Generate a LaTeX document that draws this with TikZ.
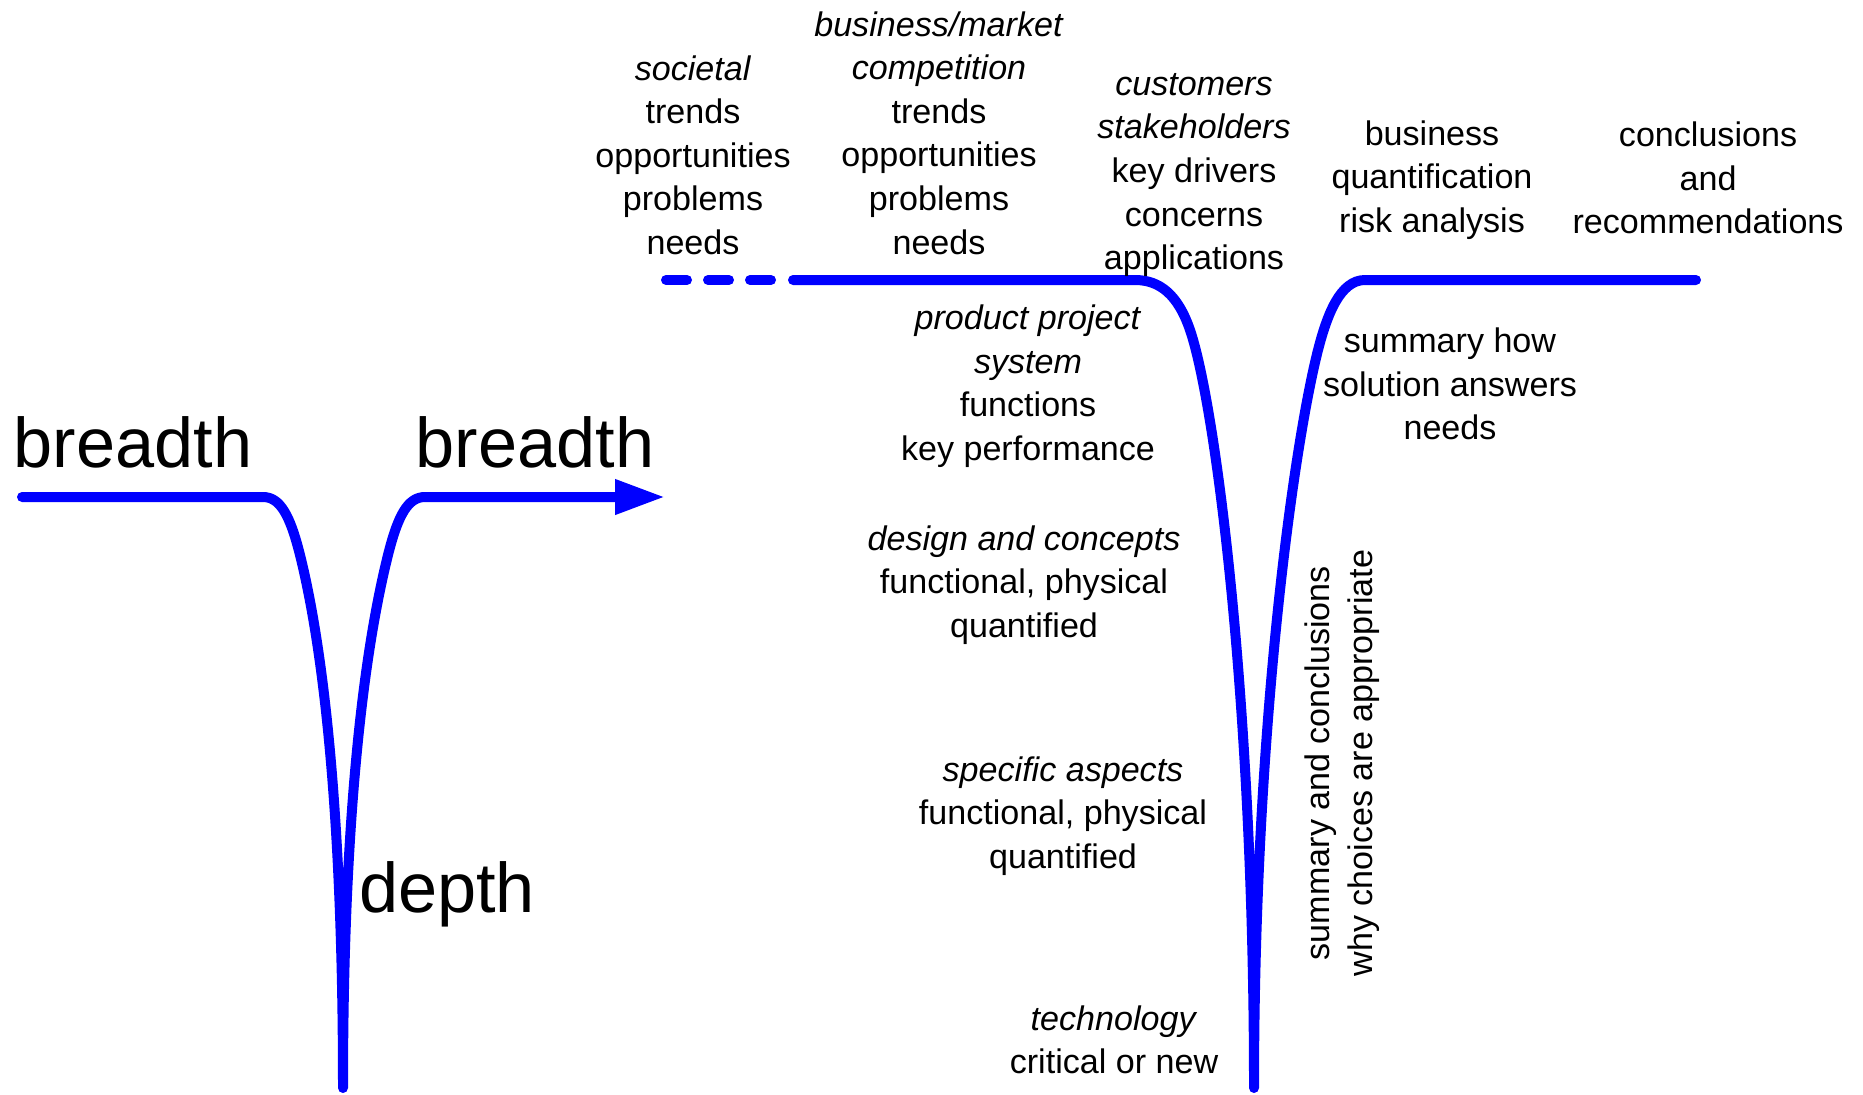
\documentclass[tikz,border=0pt]{standalone}
\usepackage{fontspec}
\setmainfont{Liberation Sans}
\usetikzlibrary{arrows.meta}

\begin{document}
\begin{tikzpicture}[>={Triangle[length=5mm,width=3.3mm]},
  funnel/.style={blue,line width=1mm,line cap=round,line join=round},
  txt/.style={align=center,inner sep=0pt,font=\fontsize{9.7pt}{12.4pt}\selectfont},
  big/.style={inner sep=0pt,anchor=base,font=\fontsize{20pt}{24pt}\selectfont}]
\useasboundingbox (0,0) rectangle (18.63,-10.94);
% breadth and depth
\draw[funnel,->] (0.22,-4.97)--(2.63,-4.97) .. controls (2.80,-4.97) and (2.90,-5.15) .. (3.00,-5.55)
  .. controls (3.18,-6.27) and (3.43,-7.8) .. (3.43,-10.88)
  .. controls (3.43,-7.8) and (3.70,-6.27) .. (3.88,-5.55)
  .. controls (3.98,-5.15) and (4.08,-4.97) .. (4.25,-4.97)--(6.65,-4.97);
\node[big] (breadthL) at (1.33,-4.67) {breadth};
\node[big] (breadthR) at (5.35,-4.67) {breadth};
\node[big] (depth) at (4.47,-9.12) {depth};
% the report
\draw[funnel,dash pattern=on 2.1mm off 2.1mm] (6.66,-2.80)--(7.72,-2.80);
\draw[funnel] (7.93,-2.80)--(11.35,-2.80) .. controls (11.60,-2.80) and (11.78,-2.95) .. (11.90,-3.30)
  .. controls (12.15,-4.03) and (12.54,-7.0) .. (12.54,-10.88)
  .. controls (12.54,-7.2) and (12.95,-4.4) .. (13.18,-3.50)
  .. controls (13.27,-3.15) and (13.40,-2.80) .. (13.65,-2.80)--(16.96,-2.80);
\node[txt] (societal) at (6.93,-1.55) {\textit{societal}\\trends\\opportunities\\problems\\needs};
\node[txt] (market) at (9.39,-1.33) {\textit{business/market}\\\textit{competition}\\trends\\opportunities\\problems\\needs};
\node[txt] (customers) at (11.94,-1.75) {\textit{customers}\\\textit{stakeholders}\\key drivers\\concerns\\applications};
\node[txt] (business) at (14.32,-1.80) {business\\quantification\\risk analysis};
\node[txt] (conclusions) at (17.08,-1.78) {conclusions\\and\\recommendations};
\node[txt] (product) at (10.28,-3.86) {\textit{product project}\\\textit{system}\\functions\\key performance};
\node[txt] (design) at (10.24,-5.85) {\textit{design and concepts}\\functional, physical\\quantified};
\node[txt] (aspects) at (10.63,-8.16) {\textit{specific aspects}\\functional, physical\\quantified};
\node[txt] (technology) at (11.14,-10.40) {\textit{technology}\\critical or new};
\node[txt] (summary) at (14.50,-3.84) {summary how\\solution answers\\needs};
\node[txt,rotate=90] (rationale) at (13.42,-7.63) {summary and conclusions\\why choices are appropriate};
\end{tikzpicture}
\end{document}
